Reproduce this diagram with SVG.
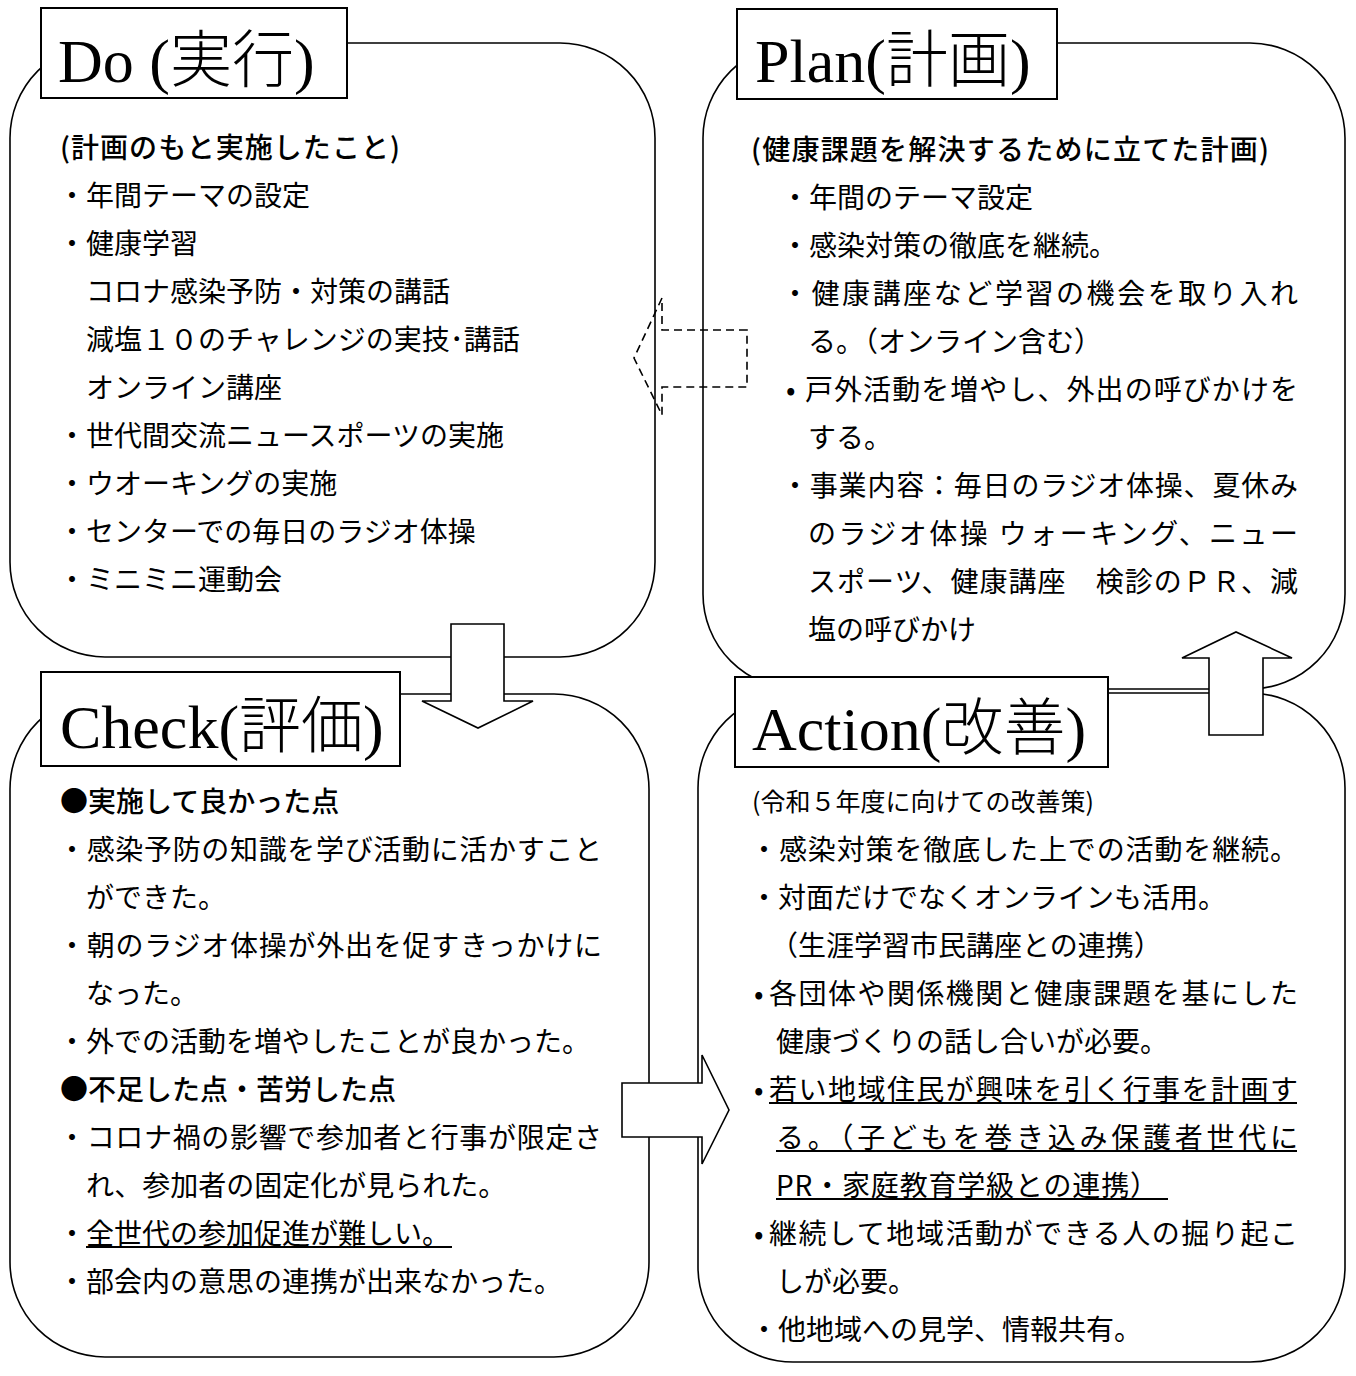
<svg xmlns="http://www.w3.org/2000/svg" width="1356" height="1376" viewBox="0 0 1356 1376">
<style>
.box{fill:#fff;stroke:#000;stroke-width:1.6}
.tbox{fill:#fff;stroke:#000;stroke-width:2}
.title{font-family:"Liberation Serif","Noto Sans CJK JP",serif;font-size:62px;fill:#000}
.cj{font-family:"Noto Sans CJK JP","Noto Sans CJK SC",sans-serif;font-weight:200}
.t{font-family:"Noto Sans CJK JP","Noto Sans CJK SC",sans-serif;font-size:28px;fill:#000}
.b{font-weight:500}
.s{font-size:25px}
.ul{stroke:#000;stroke-width:2}
.arrow{fill:#fff;stroke:#000;stroke-width:1.6;stroke-linejoin:miter}
.dash{fill:none;stroke:#000;stroke-width:1.6;stroke-dasharray:8 5}
</style>
<rect width="1356" height="1376" fill="#fff"/>

<g id="do">
<rect class="box" x="10" y="43" width="645" height="614" rx="95" ry="95"/>
<rect class="tbox" x="41" y="8" width="306" height="90"/>
<text class="title" x="58" y="82">Do (<tspan class="cj">実行</tspan>)</text>
<text class="t b" x="60" y="158" textLength="340">(計画のもと実施したこと)</text>
<text class="t" x="58" y="206">・年間テーマの設定</text>
<text class="t" x="58" y="254">・健康学習</text>
<text class="t" x="86" y="302">コロナ感染予防・対策の講話</text>
<text class="t" x="86" y="350">減塩１０のチャレンジの実技･講話</text>
<text class="t" x="86" y="398">オンライン講座</text>
<text class="t" x="58" y="446">・世代間交流ニュースポーツの実施</text>
<text class="t" x="58" y="494">・ウオーキングの実施</text>
<text class="t" x="58" y="542">・センターでの毎日のラジオ体操</text>
<text class="t" x="58" y="590">・ミニミニ運動会</text>
</g>

<g id="plan">
<rect class="box" x="703" y="43" width="642" height="646" rx="95" ry="95"/>
<rect class="tbox" x="737" y="9" width="320" height="90"/>
<text class="title" x="755" y="82">Plan(<tspan class="cj">計画</tspan>)</text>
<text class="t b" x="751" y="160" textLength="518">(健康課題を解決するために立てた計画)</text>
<text class="t" x="781" y="208">・年間のテーマ設定</text>
<text class="t" x="781" y="256">・感染対策の徹底を継続。</text>
<text class="t" x="781" y="304" textLength="517">・健康講座など学習の機会を取り入れ</text>
<text class="t" x="808" y="352">る。（オンライン含む）</text>
<text class="t" x="786" y="400">•</text>
<text class="t" x="805" y="400" textLength="493">戸外活動を増やし、外出の呼びかけを</text>
<text class="t" x="808" y="448">する。</text>
<text class="t" x="781" y="496" textLength="517">・事業内容：毎日のラジオ体操、夏休み</text>
<text class="t" x="808" y="544" textLength="490">のラジオ体操 ウォーキング、ニュー</text>
<text class="t" x="808" y="592" textLength="490">スポーツ、健康講座　検診のＰＲ、減</text>
<text class="t" x="808" y="640">塩の呼びかけ</text>
</g>

<g id="check">
<rect class="box" x="10" y="694" width="639" height="663" rx="95" ry="95"/>
<rect class="tbox" x="41" y="672" width="359" height="94"/>
<text class="title" x="60" y="748">Check(<tspan class="cj">評価</tspan>)</text>
<text class="t b" x="60" y="812">●実施して良かった点</text>
<text class="t" x="58" y="860" textLength="544">・感染予防の知識を学び活動に活かすこと</text>
<text class="t" x="86" y="908">ができた。</text>
<text class="t" x="58" y="956" textLength="544">・朝のラジオ体操が外出を促すきっかけに</text>
<text class="t" x="86" y="1004">なった。</text>
<text class="t" x="58" y="1052">・外での活動を増やしたことが良かった。</text>
<text class="t b" x="60" y="1100">●不足した点・苦労した点</text>
<text class="t" x="58" y="1148" textLength="544">・コロナ禍の影響で参加者と行事が限定さ</text>
<text class="t" x="86" y="1196">れ、参加者の固定化が見られた。</text>
<text class="t" x="58" y="1244">・全世代の参加促進が難しい。</text>
<line class="ul" x1="86" y1="1247" x2="452" y2="1247"/>
<text class="t" x="58" y="1292">・部会内の意思の連携が出来なかった。</text>
</g>

<g id="action">
<rect class="box" x="698" y="693" width="647" height="669" rx="95" ry="95"/>
<rect class="tbox" x="735" y="677" width="373" height="90"/>
<text class="title" x="752" y="750">Action(<tspan class="cj">改善</tspan>)</text>
<text class="t s" x="752" y="811">(令和５年度に向けての改善策)</text>
<text class="t" x="750" y="860" textLength="548">・感染対策を徹底した上での活動を継続。</text>
<text class="t" x="750" y="908">・対面だけでなくオンラインも活用。</text>
<text class="t" x="770" y="956">（生涯学習市民講座との連携）</text>
<text class="t" x="754" y="1004">•</text>
<text class="t" x="769" y="1004" textLength="529">各団体や関係機関と健康課題を基にした</text>
<text class="t" x="776" y="1052">健康づくりの話し合いが必要。</text>
<text class="t" x="754" y="1100">•</text>
<text class="t" x="769" y="1100" textLength="529">若い地域住民が興味を引く行事を計画す</text>
<line class="ul" x1="769" y1="1103" x2="1297" y2="1103"/>
<text class="t" x="776" y="1148" textLength="522">る。（子どもを巻き込み保護者世代に</text>
<line class="ul" x1="776" y1="1151" x2="1297" y2="1151"/>
<text class="t" x="776" y="1196" textLength="382">PR・家庭教育学級との連携）</text>
<line class="ul" x1="776" y1="1199" x2="1168" y2="1199"/>
<text class="t" x="754" y="1244">•</text>
<text class="t" x="769" y="1244" textLength="529">継続して地域活動ができる人の掘り起こ</text>
<text class="t" x="776" y="1292">しが必要。</text>
<text class="t" x="750" y="1340">・他地域への見学、情報共有。</text>
</g>

<g id="connectors">
<polygon class="arrow" points="451,624 504,624 504,701 533,701 478,728 422,701 451,701"/>
<polygon class="arrow" points="1209,735 1263,735 1263,658 1292,658 1236,632 1182,658 1209,658"/>
<polygon class="arrow" points="622,1083 702,1083 702,1055 729,1110 702,1164 702,1137 622,1137"/>
<polygon class="dash" points="747,330 662,330 662,298 634,358 662,415 662,387 747,387"/>
</g>
</svg>
